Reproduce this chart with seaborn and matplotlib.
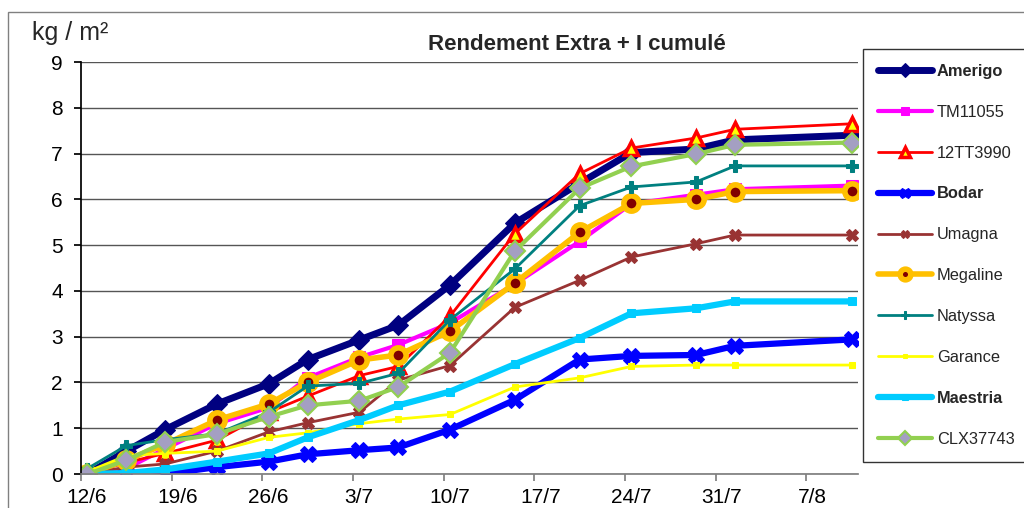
import numpy as np
import pandas as pd
import matplotlib
matplotlib.use("Agg")
import matplotlib.pyplot as plt
import matplotlib.transforms as mtransforms
from matplotlib.patches import Rectangle
import seaborn as sns

# =====================
# DATA
# =====================
dates = ['12/6', '15/6', '18/6', '22/6', '26/6', '29/6', '3/7', '6/7',
         '10/7', '15/7', '20/7', '24/7', '29/7', '1/8', '10/8']
tick_labels = ['12/6', '19/6', '26/6', '3/7', '10/7', '17/7', '24/7', '31/7', '7/8']

amerigo = [0, 0.5, 0.97, 1.53, 1.97, 2.5, 2.93, 3.25, 4.13, 5.48, 6.35, 7.02, 7.1, 7.3, 7.4]
tm11055 = [0, 0.12, 0.55, 1.1, 1.45, 2.1, 2.55, 2.82, 3.3, 4.15, 5.08, 5.9, 6.1, 6.22, 6.3]
tt3990 = [0, 0.25, 0.45, 0.74, 1.35, 1.7, 2.15, 2.35, 3.45, 5.25, 6.56, 7.12, 7.34, 7.53, 7.65]
bodar = [0, 0, 0, 0.15, 0.27, 0.43, 0.52, 0.58, 0.97, 1.62, 2.5, 2.58, 2.6, 2.8, 2.94]
umagna = [0, 0.15, 0.22, 0.5, 0.92, 1.12, 1.35, 2.05, 2.37, 3.64, 4.23, 4.74, 5.03, 5.22, 5.22]
megaline = [0, 0.3, 0.65, 1.18, 1.53, 2.0, 2.49, 2.6, 3.12, 4.17, 5.28, 5.91, 6.0, 6.17, 6.19]
natyssa = [0.12, 0.62, 0.75, 0.88, 1.35, 1.92, 1.98, 2.2, 3.37, 4.48, 5.86, 6.27, 6.38, 6.73, 6.73]
garance = [0.05, 0.4, 0.45, 0.5, 0.8, 0.9, 1.1, 1.2, 1.3, 1.9, 2.1, 2.35, 2.38, 2.38, 2.38]
maestria = [0, 0.02, 0.1, 0.27, 0.45, 0.8, 1.18, 1.5, 1.8, 2.4, 2.97, 3.51, 3.62, 3.77, 3.77]
clx37743 = [0, 0.3, 0.7, 0.87, 1.25, 1.5, 1.6, 1.9, 2.65, 4.87, 6.24, 6.72, 6.99, 7.19, 7.24]

names = ['Amerigo', 'TM11055', '12TT3990', 'Bodar', 'Umagna',
         'Megaline', 'Natyssa', 'Garance', 'Maestria', 'CLX37743']
values = [amerigo, tm11055, tt3990, bodar, umagna,
          megaline, natyssa, garance, maestria, clx37743]
bold_names = ['Amerigo', 'Bodar', 'Maestria']

# line / marker styles per variety
styles = {
    'Amerigo':  dict(color='#000080', lw=5, marker='D', ms=10, mfc='#000080', mec='#000080'),
    'TM11055':  dict(color='#FF00FF', lw=3, marker='s', ms=9, mfc='#FF00FF', mec='#FF00FF'),
    '12TT3990': dict(color='#FF0000', lw=2, marker='^', ms=10, mfc='#FFFF00', mec='#FF0000', mew=2.5),
    'Bodar':    dict(color='#0000FF', lw=4.5, marker='X', ms=11, mfc='#0000FF', mec='#0000FF'),
    'Umagna':   dict(color='#993333', lw=2, marker='X', ms=9, mfc='#993333', mec='#993333'),
    'Megaline': dict(color='#FFC000', lw=4, marker='o', ms=11, mfc='#800000', mec='#FFC000', mew=4),
    'Natyssa':  dict(color='#008080', lw=2, marker='P', ms=8, mfc='#008080', mec='#008080'),
    'Garance':  dict(color='#FFFF00', lw=2, marker='s', ms=4, mfc='#FFFF00', mec='#FFFF00'),
    'Maestria': dict(color='#00CCFF', lw=4.5, marker='s', ms=6, mfc='#00CCFF', mec='#00CCFF'),
    'CLX37743': dict(color='#92D050', lw=3, marker='D', ms=10, mfc='#A49FC2', mec='#92D050', mew=1.5),
}

start = pd.Timestamp('2013-06-12')
days = np.array([(pd.to_datetime(d + '/2013', format='%d/%m/%Y') - start).days for d in dates])
xpos = days + 0.5  # Excel date axis: points centred between day ticks

# =====================
# PLOT
# =====================
sns.set_theme(style='white')
plt.rcParams['font.family'] = ['Liberation Sans', 'DejaVu Sans']

fig = plt.figure(figsize=(10.24, 5.08), dpi=100)
ax = fig.add_axes([81 / 1024, 34 / 508, 777 / 1024, 412 / 508])

for name, vals in zip(names, values):
    st = dict(styles[name])
    sns.lineplot(x=xpos, y=vals, ax=ax, label=name, sort=False,
                 color=st.pop('color'), linewidth=st.pop('lw'),
                 markersize=st.pop('ms'), solid_joinstyle='round', **st)

ax.set_xlim(0, 60)
ax.set_ylim(0, 9)
ax.set_yticks(range(10))
ax.set_xticks(range(0, 57, 7))
ax.set_xticklabels(tick_labels)
ax.tick_params(axis='both', labelsize=15, length=5, direction='out',
               left=True, bottom=True, colors='black')
ax.tick_params(axis='y', pad=8)
ax.tick_params(axis='x', color='#808080', pad=5)
ax.grid(axis='y', color='#555555', lw=1)
ax.grid(axis='x', visible=False)
ax.set_axisbelow(True)
for side in ['top', 'right']:
    ax.spines[side].set_visible(False)
ax.spines['left'].set_color('black')
ax.spines['bottom'].set_color('#808080')
ax.set_xlabel('')
ax.set_ylabel('')

# Excel draws date labels a little right of the tick
shift = mtransforms.ScaledTranslation(6 / 100, 0, fig.dpi_scale_trans)
for lab in ax.get_xticklabels():
    lab.set_transform(lab.get_transform() + shift)

ax.get_legend().remove()
handles, labels = ax.get_legend_handles_labels()
leg = fig.legend(handles, labels, loc='upper left', mode='expand',
                 bbox_to_anchor=(863 / 1024, 1 - 49 / 508 - 0.5, 0.2, 0.5),
                 fontsize=11.8, frameon=True, fancybox=False, edgecolor='black',
                 handlelength=3.3, labelspacing=1.58, borderpad=0.9,
                 handletextpad=0.3, borderaxespad=0, markerscale=0.7)
leg.get_frame().set_linewidth(1)
for txt in leg.get_texts():
    if txt.get_text() in bold_names:
        txt.set_fontweight('bold')

fig.text(70 / 1024, 1 - 33 / 508, 'kg / m²', fontsize=18, ha='center', va='center')
fig.text(577 / 1024, 1 - 45 / 508, 'Rendement Extra + I cumulé', fontsize=16,
         fontweight='bold', ha='center', va='center')

# outer chart border
fig.patches.append(Rectangle((8 / 1024, -0.1), 1.2, 1.1 - 12 / 508,
                             transform=fig.transFigure, fill=False,
                             edgecolor='#808080', lw=1))

plt.savefig('out.png', dpi=100)
